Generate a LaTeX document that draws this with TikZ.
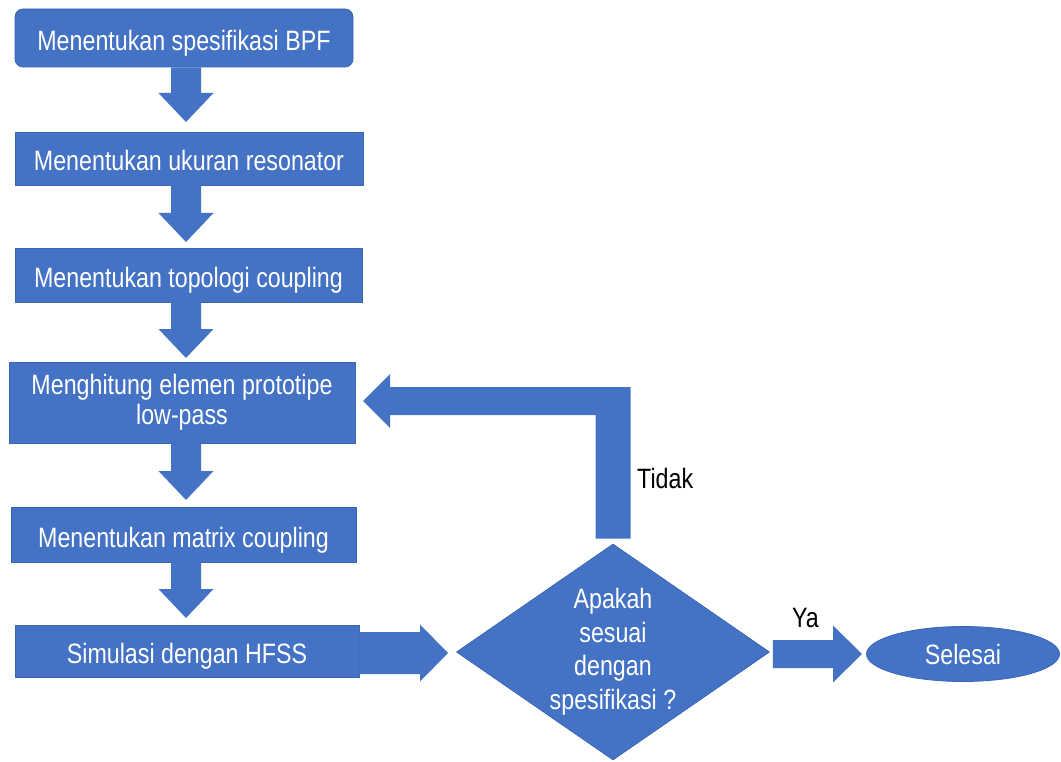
\documentclass[tikz,border=0pt]{standalone}
\usepackage{fontspec}
\setmainfont{Liberation Sans}[FakeStretch=0.83]
\usetikzlibrary{shapes.geometric,calc}
\definecolor{blk}{HTML}{4472C4}
\definecolor{blkedge}{HTML}{3A66B5}
\newcommand\dblock[2]{%
  \fill[blockarrow] let \p1=(#1), \p2=(#2) in
    (171pt,\y1) -- (201pt,\y1) -- (201pt,\y2+29pt) -- (213.5pt,\y2+29pt) --
    (186pt,\y2) -- (158.5pt,\y2+29pt) -- (171pt,\y2+29pt) -- cycle;}
\begin{document}
\begin{tikzpicture}[x=1pt,y=-1pt,
  bigfont/.style={font=\fontsize{28}{30}\selectfont},
  box/.style={draw=blkedge, line width=0.8pt, fill=blk, text=white, bigfont,
    align=center, inner sep=0pt},
  onebox/.style={box, text height=25pt, text depth=0pt},
  blockarrow/.style={fill=blk, draw=none},
  lbl/.style={text=black, bigfont, inner sep=0pt, anchor=base west}]
\useasboundingbox[fill=white] (0,0) rectangle (1061,762);

% process boxes
\node[onebox, rounded corners=8pt, minimum width=338, minimum height=58] (b1) at (184,38) {Menentukan spesifikasi BPF};
\node[onebox, minimum width=348, minimum height=53] (b2) at (189,158.5) {Menentukan ukuran resonator};
\node[onebox, minimum width=347, minimum height=54] (b3) at (188.5,275) {Menentukan topologi coupling};
\node[box, minimum width=346, minimum height=81] (b4) at (182,402.5) {Menghitung elemen prototipe\\low-pass};
\node[onebox, minimum width=345, minimum height=55] (b5) at (183.5,534.5) {Menentukan matrix coupling};
\node[onebox, minimum width=344, minimum height=52] (b6) at (187,651) {Simulasi dengan HFSS};

% decision and terminal
\node[diamond, shape aspect=1.45, fill=blk, draw=blkedge, line width=0.8pt, text=white,
  font=\fontsize{28}{33.5}\selectfont, align=center, inner sep=0pt,
  minimum width=313, minimum height=216] (d) at (613,652)
  {Apakah\\sesuai\\dengan\\spesifikasi ?};
\node[ellipse, fill=blk, draw=blkedge, line width=0.8pt, text=white, bigfont, inner sep=0pt,
  minimum width=193, minimum height=55] (e) at (963,654) {Selesai};

% tips of the block arrows
\coordinate (t1) at (186,122);
\coordinate (t2) at (186,242);
\coordinate (t3) at (186,358);
\coordinate (t4) at (186,500);
\coordinate (t5) at (186,618);
\coordinate (t6) at (448,653);
\coordinate (t7) at (862,654);
\coordinate (t8) at (363,401);

% down arrows
\dblock{b1.south}{t1}
\dblock{b2.south}{t2}
\dblock{b3.south}{t3}
\dblock{b4.south}{t4}
\dblock{b5.south}{t5}

% simulation -> decision
\fill[blockarrow] let \p1=(b6.east), \p2=(t6) in
  (\x1,\y2+21pt) -- (\x2-28pt,\y2+21pt) -- (\x2-28pt,\y2+28.5pt) -- (\x2,\y2) --
  (\x2-28pt,\y2-28.5pt) -- (\x2-28pt,\y2-21pt) -- (\x1,\y2-21pt) -- cycle;

% decision -> Selesai (Ya)
\fill[blockarrow] let \p1=(d.east), \p2=(t7) in
  (\x1+3pt,\y2+14pt) -- (\x2-29pt,\y2+14pt) -- (\x2-29pt,\y2+28.5pt) -- (\x2,\y2) --
  (\x2-29pt,\y2-28.5pt) -- (\x2-29pt,\y2-14pt) -- (\x1+3pt,\y2-14pt) -- cycle;

% decision -> back (Tidak)
\fill[blockarrow] let \p1=(d.north), \p2=(t8) in
  (\x1-17.5pt,\y1+5pt) -- (\x1+17.5pt,\y1+5pt) -- (\x1+17.5pt,\y2+14pt) --
  (\x2+27pt,\y2+14pt) -- (\x2+27pt,\y2+27pt) -- (\x2,\y2) -- (\x2+27pt,\y2-27pt) --
  (\x2+27pt,\y2-14pt) -- (\x1-17.5pt,\y2-14pt) -- cycle;

% labels
\node[lbl] (tidak) at (637,488) {Tidak};
\node[lbl] (ya) at (792,627) {Ya};
\end{tikzpicture}
\end{document}
